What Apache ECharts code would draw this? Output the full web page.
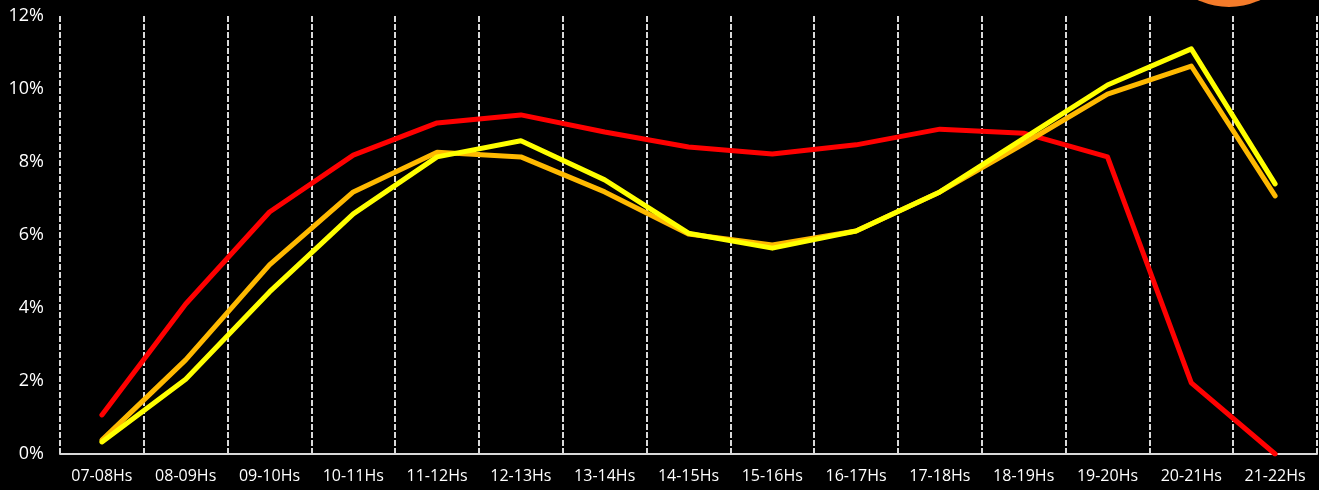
<!DOCTYPE html>
<html>
<head>
<meta charset="utf-8">
<script src="https://cdn.jsdelivr.net/npm/echarts@6/dist/echarts.min.js"></script>
<style>
  html, body { margin: 0; padding: 0; background: #000; }
  #chart { width: 1319px; height: 490px; }
</style>
</head>
<body>
<div id="chart"></div>
<script>
  // hourly share (%) per series
  var hours = ['07-08Hs', '08-09Hs', '09-10Hs', '10-11Hs', '11-12Hs', '12-13Hs', '13-14Hs', '14-15Hs',
    '15-16Hs', '16-17Hs', '17-18Hs', '18-19Hs', '19-20Hs', '20-21Hs', '21-22Hs']
  var redValues = [1.07, 4.11, 6.63, 8.19, 9.07, 9.29, 8.82, 8.41, 8.22, 8.47, 8.9, 8.79, 8.14, 1.95, 0]
  var orangeValues = [0.38, 2.58, 5.18, 7.18, 8.27, 8.14, 7.18, 6.03, 5.73, 6.11, 7.18, 8.5, 9.86, 10.63, 7.07]
  var yellowValues = [0.33, 2.05, 4.44, 6.58, 8.14, 8.58, 7.51, 6.05, 5.64, 6.11, 7.18, 8.65, 10.11, 11.1, 7.4]
  var yTicks = [0, 2, 4, 6, 8, 10, 12]

  var chart = echarts.init(document.getElementById('chart'))

  function line(name, color, data) {
    return {
      name: name,
      type: 'line',
      data: data,
      symbol: 'none',
      smooth: false,
      lineStyle: { color: color, width: 5, cap: 'round', join: 'round' },
      itemStyle: { color: color },
      animation: false
    }
  }

  chart.setOption({
    backgroundColor: '#000',
    textStyle: { fontFamily: 'Open Sans' },
    grid: {
      left: 60,
      right: 2,
      top: 16,
      bottom: 36
    },
    graphic: [
      {
        type: 'circle',
        shape: { cx: 1229, cy: -67, r: 74 },
        style: { fill: '#F47B2A' },
        z: 0
      }
    ],
    xAxis: {
      type: 'category',
      data: hours,
      boundaryGap: true,
      axisLine: { show: true, lineStyle: { color: '#D9D9D9', width: 2 } },
      axisTick: { show: false },
      axisLabel: { color: '#fff', fontSize: 16, margin: 14, interval: 0 },
      splitLine: {
        show: true,
        interval: 0,
        lineStyle: { color: '#D9D9D9', width: 2, type: [6, 2] }
      }
    },
    yAxis: {
      type: 'value',
      min: yTicks[0],
      max: yTicks[yTicks.length - 1],
      interval: 2,
      axisLine: { show: false },
      axisTick: { show: false },
      splitLine: { show: false },
      axisLabel: {
        color: '#fff',
        fontSize: 18,
        margin: 16,
        formatter: function (v) { return v + '%' }
      }
    },
    series: [
      line('red', '#FF0000', redValues),
      line('orange', '#FFB900', orangeValues),
      line('yellow', '#FFFF00', yellowValues)
    ]
  })
</script>
</body>
</html>
